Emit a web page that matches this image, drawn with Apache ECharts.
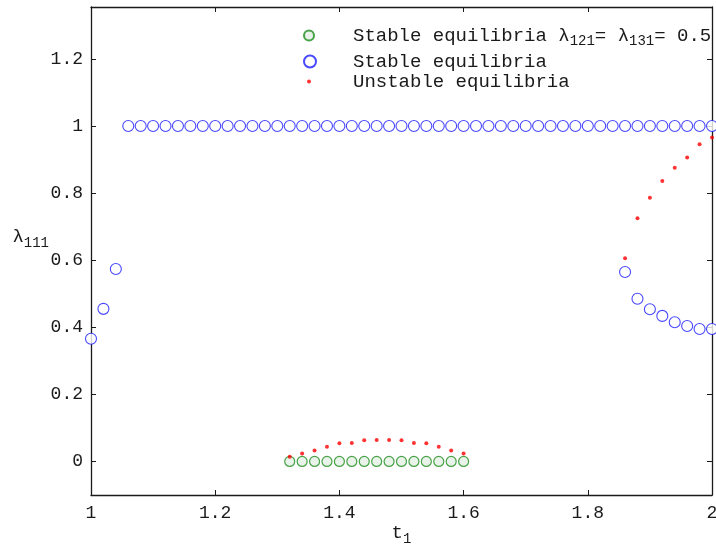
<!DOCTYPE html>
<html>
<head>
<meta charset="utf-8">
<script src="https://cdn.jsdelivr.net/npm/echarts@6/dist/echarts.min.js"></script>
<style>
  html, body { margin: 0; padding: 0; background: #fff; }
  #chart { width: 716px; height: 548px; }
</style>
</head>
<body>
<div id="chart"></div>
<script>
// tick labels
var xTicks = [1, 1.2, 1.4, 1.6, 1.8, 2];
var yTicks = [0, 0.2, 0.4, 0.6, 0.8, 1, 1.2];

// stable equilibria (blue), three branches
var blueLowT = [1.00, 1.02, 1.04];
var blueLowY = [0.366, 0.455, 0.574];
var blueTopT = [1.06, 1.08, 1.10, 1.12, 1.14, 1.16, 1.18, 1.20, 1.22, 1.24, 1.26, 1.28,
                1.30, 1.32, 1.34, 1.36, 1.38, 1.40, 1.42, 1.44, 1.46, 1.48, 1.50, 1.52,
                1.54, 1.56, 1.58, 1.60, 1.62, 1.64, 1.66, 1.68, 1.70, 1.72, 1.74, 1.76,
                1.78, 1.80, 1.82, 1.84, 1.86, 1.88, 1.90, 1.92, 1.94, 1.96, 1.98, 2.00];
var blueTopY = [1, 1, 1, 1, 1, 1, 1, 1, 1, 1, 1, 1,
                1, 1, 1, 1, 1, 1, 1, 1, 1, 1, 1, 1,
                1, 1, 1, 1, 1, 1, 1, 1, 1, 1, 1, 1,
                1, 1, 1, 1, 1, 1, 1, 1, 1, 1, 1, 1];
var blueRightT = [1.86, 1.88, 1.90, 1.92, 1.94, 1.96, 1.98, 2.00];
var blueRightY = [0.565, 0.485, 0.454, 0.434, 0.415, 0.404, 0.395, 0.395];

// stable equilibria with lambda121 = lambda131 = 0.5 (green)
var greenT = [1.32, 1.34, 1.36, 1.38, 1.40, 1.42, 1.44, 1.46, 1.48, 1.50, 1.52, 1.54, 1.56, 1.58, 1.60];
var greenY = [0, 0, 0, 0, 0, 0, 0, 0, 0, 0, 0, 0, 0, 0, 0];

// unstable equilibria (red)
var redLowT = [1.32, 1.34, 1.36, 1.38, 1.40, 1.42, 1.44, 1.46, 1.48, 1.50, 1.52, 1.54, 1.56, 1.58, 1.60];
var redLowY = [0.014, 0.024, 0.033, 0.044, 0.054, 0.055, 0.063, 0.064, 0.064, 0.063, 0.055, 0.054, 0.044, 0.033, 0.024];
var redHighT = [1.86, 1.88, 1.90, 1.92, 1.94, 1.96, 1.98, 2.00];
var redHighY = [0.606, 0.725, 0.786, 0.836, 0.876, 0.906, 0.946, 0.966];

function pairs(t, y) {
    var out = [];
    for (var i = 0; i < t.length; i++) out.push([t[i], y[i]]);
    return out;
}

var FONT = '"Liberation Mono", "DejaVu Sans Mono", monospace';
var INK = '#1a1a1a';
var GREEN_NAME = 'Stable equilibria green';
var BLUE_NAME = 'Stable equilibria';
var RED_NAME = 'Unstable equilibria';

// base text + subscript, shared by legend and axis names
var subRich = {
    b: { fontFamily: FONT, fontSize: 19, color: INK, lineHeight: 22 },
    s: { fontFamily: FONT, fontSize: 14, color: INK, padding: [12, 0, 0, 0], verticalAlign: 'bottom' }
};

function makeLegend(name, left, top, size, pad) {
    return {
        data: [name],
        left: left,
        top: top,
        padding: 0,
        itemWidth: size,
        itemHeight: size,
        selectedMode: false,
        formatter: function (n) {
            if (n === GREEN_NAME) return '{b|Stable equilibria λ}{s|121}{b|= λ}{s|131}{b|= 0.5}';
            return '{b|' + n + '}';
        },
        textStyle: { padding: [0, 0, 0, pad], rich: subRich }
    };
}

var tickStyle = { inside: true, length: 5, lineStyle: { color: INK, width: 1 } };
var lineStyle = { show: true, onZero: false, lineStyle: { color: INK, width: 1.3 } };

var chart = echarts.init(document.getElementById('chart'));
chart.setOption({
    animation: false,
    backgroundColor: '#fff',
    grid: { left: 91, right: 4, top: 7, bottom: 53, outerBoundsMode: 'none', containLabel: false },
    legend: [
        makeLegend(GREEN_NAME, 303, 26, 10, 34),
        makeLegend(BLUE_NAME, 303, 52, 12, 32),
        makeLegend(RED_NAME, 307, 72, 4, 37)
    ],
    xAxis: [{
        type: 'value', min: 1, max: 2, interval: 0.2,
        name: '{b|t}{s|1}',
        nameLocation: 'middle', nameGap: 25, nameMoveOverlap: false,
        nameTextStyle: { rich: subRich },
        axisLine: lineStyle, axisTick: tickStyle,
        axisLabel: { fontFamily: FONT, fontSize: 18, color: INK, margin: 9 },
        splitLine: { show: false }
    }, {
        type: 'value', min: 1, max: 2, interval: 0.2, position: 'top',
        axisLine: lineStyle, axisTick: tickStyle,
        axisLabel: { show: false }, splitLine: { show: false }
    }],
    yAxis: [{
        type: 'value', min: -0.1, max: 1.355,
        name: '{b|λ}{s|111}',
        nameLocation: 'middle', nameRotate: 0, nameGap: 42, nameMoveOverlap: false,
        nameTextStyle: { padding: [0, 0, 28, 0], rich: subRich },
        axisLine: lineStyle,
        axisTick: Object.assign({ customValues: yTicks }, tickStyle),
        axisLabel: { customValues: yTicks, fontFamily: FONT, fontSize: 18, color: INK, margin: 8 },
        splitLine: { show: false }
    }, {
        type: 'value', min: -0.1, max: 1.355, position: 'right',
        axisLine: lineStyle,
        axisTick: Object.assign({ customValues: yTicks }, tickStyle),
        axisLabel: { show: false }, splitLine: { show: false }
    }],
    series: [{
        name: BLUE_NAME, type: 'scatter', symbol: 'circle', symbolSize: 11,
        itemStyle: { color: '#fff', borderColor: '#1a1aff', borderWidth: 1.1 },
        data: pairs(blueLowT, blueLowY).concat(pairs(blueTopT, blueTopY), pairs(blueRightT, blueRightY)),
        z: 2
    }, {
        name: GREEN_NAME, type: 'scatter', symbol: 'circle', symbolSize: 10,
        itemStyle: { color: '#e4f0e4', borderColor: '#1c8c1c', borderWidth: 1.2 },
        data: pairs(greenT, greenY),
        z: 3
    }, {
        name: RED_NAME, type: 'scatter', symbol: 'circle', symbolSize: 4,
        itemStyle: { color: '#ff0000' },
        data: pairs(redLowT, redLowY).concat(pairs(redHighT, redHighY)),
        z: 4
    }]
});
</script>
</body>
</html>
